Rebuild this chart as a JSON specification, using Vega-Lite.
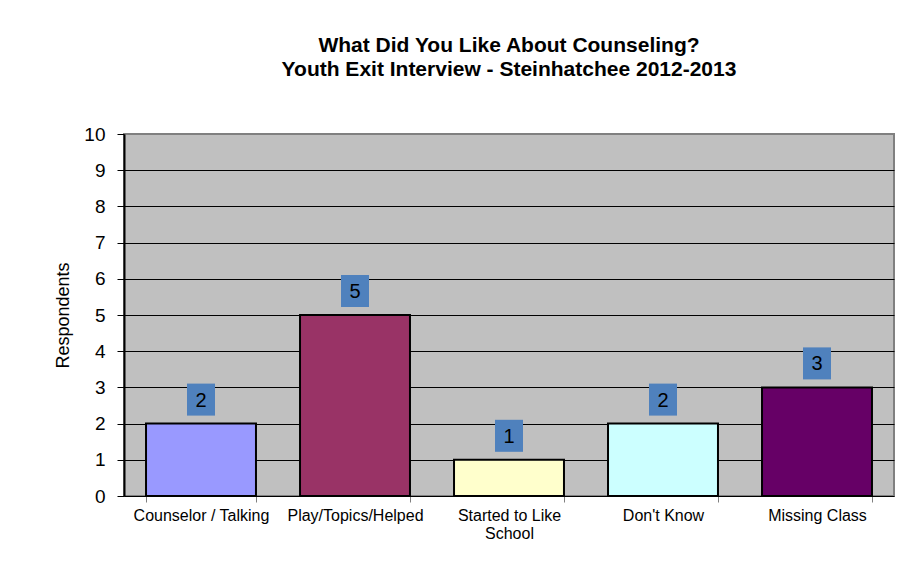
{
  "$schema": "https://vega.github.io/schema/vega-lite/v6.json",
  "autosize": {"type": "none"},
  "width": 770,
  "height": 362,
  "padding": {"left": 124, "top": 134, "right": 17, "bottom": 92},
  "background": "white",
  "config": {
    "font": "Liberation Sans",
    "view": {"fill": "#C0C0C0", "stroke": "#808080", "strokeWidth": 2}
  },
  "title": {
    "text": ["What Did You Like About Counseling?", "Youth Exit Interview - Steinhatchee 2012-2013"],
    "font": "Liberation Sans",
    "fontSize": 21,
    "fontWeight": "bold",
    "color": "black",
    "anchor": "middle",
    "lineHeight": 24,
    "offset": 45
  },
  "data": {
    "values": [
      {"category": "Counselor / Talking", "count": 2, "color": "#9999FF"},
      {"category": "Play/Topics/Helped", "count": 5, "color": "#993366"},
      {"category": "Started to Like School", "count": 1, "color": "#FFFFCC"},
      {"category": "Don't Know", "count": 2, "color": "#CCFFFF"},
      {"category": "Missing Class", "count": 3, "color": "#660066"}
    ]
  },
  "encoding": {
    "x": {
      "field": "category",
      "type": "nominal",
      "sort": null,
      "scale": {"paddingInner": 0.286, "paddingOuter": 0.143},
      "axis": {
        "title": null,
        "labelAngle": 0,
        "labelFont": "Liberation Sans",
        "labelFontSize": 16,
        "labelColor": "black",
        "labelBaseline": "top",
        "labelPadding": 5,
        "labelLineHeight": 18,
        "labelExpr": "datum.label == 'Started to Like School' ? ['Started to Like', 'School'] : datum.label",
        "tickBand": "extent",
        "tickSize": 6,
        "tickColor": "#808080",
        "domainColor": "black",
        "domainWidth": 1,
        "grid": false
      }
    },
    "y": {
      "field": "count",
      "type": "quantitative",
      "scale": {"domain": [0, 10], "nice": false},
      "axis": {
        "title": "Respondents",
        "titleFont": "Liberation Sans",
        "titleFontSize": 18,
        "titleFontWeight": "normal",
        "titleColor": "black",
        "titleX": -61,
        "titleY": 181,
        "titleAngle": -90,
        "titleAlign": "center",
        "titleBaseline": "middle",
        "values": [0, 1, 2, 3, 4, 5, 6, 7, 8, 9, 10],
        "labelFont": "Liberation Sans",
        "labelFontSize": 19,
        "labelColor": "black",
        "labelPadding": 12,
        "tickSize": 7,
        "tickColor": "black",
        "domainColor": "black",
        "domainWidth": 2,
        "grid": true,
        "gridColor": {"condition": {"test": "datum.value == 10 || datum.value == 0", "value": "transparent"}, "value": "black"},
        "gridWidth": 1
      }
    }
  },
  "layer": [
    {
      "mark": {"type": "bar", "stroke": "black", "strokeWidth": 2},
      "encoding": {
        "fill": {"field": "color", "type": "nominal", "scale": null}
      }
    },
    {
      "mark": {
        "type": "point",
        "shape": "M -0.875 -1 L 0.875 -1 L 0.875 1 L -0.875 1 Z",
        "filled": true,
        "fill": "#4F81BD",
        "opacity": 1,
        "strokeWidth": 0,
        "size": 1024,
        "yOffset": -24
      }
    },
    {
      "mark": {
        "type": "text",
        "font": "Liberation Sans",
        "fontSize": 20,
        "color": "black",
        "baseline": "middle",
        "align": "center",
        "dy": -23
      },
      "encoding": {"text": {"field": "count", "type": "quantitative"}}
    }
  ]
}
